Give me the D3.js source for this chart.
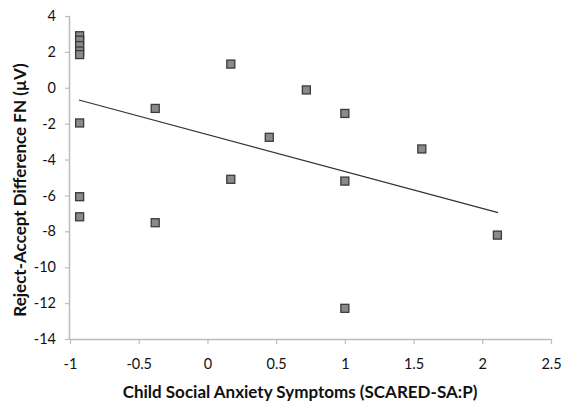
<!DOCTYPE html>
<html><head><meta charset="utf-8">
<script src="https://cdn.jsdelivr.net/npm/d3@7"></script>
<style>
body{margin:0;background:#fff;}
svg{display:block;font-family:Lato,"Open Sans",sans-serif;}
</style></head>
<body><svg id="c" width="569" height="401"></svg>
<script>
const xVals = [-0.93,-0.93,-0.93,-0.93,-0.93,-0.93,-0.93,-0.93,-0.38,-0.38,0.17,0.17,0.45,0.72,1.0,1.0,1.0,1.56,2.11];
const yVals = [2.9,2.65,2.35,2.05,1.85,-1.96,-6.07,-7.19,-1.15,-7.52,1.32,-5.1,-2.76,-0.12,-1.43,-5.2,-12.29,-3.41,-8.21];
const trendX = [-0.935, 2.115];
const trendY = [-0.68, -6.96];
const xTicks = [-1,-0.5,0,0.5,1,1.5,2,2.5];
const yTicks = [4,2,0,-2,-4,-6,-8,-10,-12,-14];
const xTitle = "Child Social Anxiety Symptoms (SCARED-SA:P)";
const yTitle = "Reject-Accept Difference FN (\u00b5V)";

const svg = d3.select("#c");
const x = d3.scaleLinear().domain([-1,2.5]).range([70,551]);
const y = d3.scaleLinear().domain([-14,4]).range([339,16]);
const axCol = "#bdbdbd";

const gx = svg.append("g").attr("transform","translate(0,339)")
  .call(d3.axisBottom(x).tickValues(xTicks).tickSize(5).tickPadding(15).tickFormat(d=>String(d)));
const gy = svg.append("g").attr("transform","translate(70,0)")
  .call(d3.axisLeft(y).tickValues(yTicks).tickSize(5).tickPadding(9).tickFormat(d=>String(d)));
[gx,gy].forEach(g=>{
  g.select(".domain").attr("stroke",axCol).attr("stroke-width",1.5);
  g.selectAll(".tick line").attr("stroke",axCol).attr("stroke-width",1.2);
  g.selectAll(".tick text").attr("fill","#111").style("font-size","14.5px").style("font-family","Lato,'Open Sans',sans-serif");
});
gx.select(".domain").attr("d",`M70,0.5H551`);
gy.select(".domain").attr("d",`M-0.5,16V339`);

svg.append("line")
  .attr("x1",x(trendX[0])).attr("y1",y(trendY[0]))
  .attr("x2",x(trendX[1])).attr("y2",y(trendY[1]))
  .attr("stroke","#333").attr("stroke-width",1.2);

const s = 8;
svg.append("g").selectAll("rect").data(xVals.map((v,i)=>[v,yVals[i]])).join("rect")
  .attr("x",d=>x(d[0])-s/2).attr("y",d=>y(d[1])-s/2)
  .attr("width",s).attr("height",s)
  .attr("fill","#8a8a8a").attr("stroke","#3a3a3a").attr("stroke-width",1.3);

svg.append("text").attr("x",300).attr("y",398).attr("text-anchor","middle")
  .style("font-weight","bold").style("font-size","17px").attr("fill","#111").text(xTitle);
svg.append("text").attr("transform","translate(26,190) rotate(-90)").attr("text-anchor","middle")
  .style("font-weight","bold").style("font-size","17px").attr("fill","#111").text(yTitle);
</script></body></html>
